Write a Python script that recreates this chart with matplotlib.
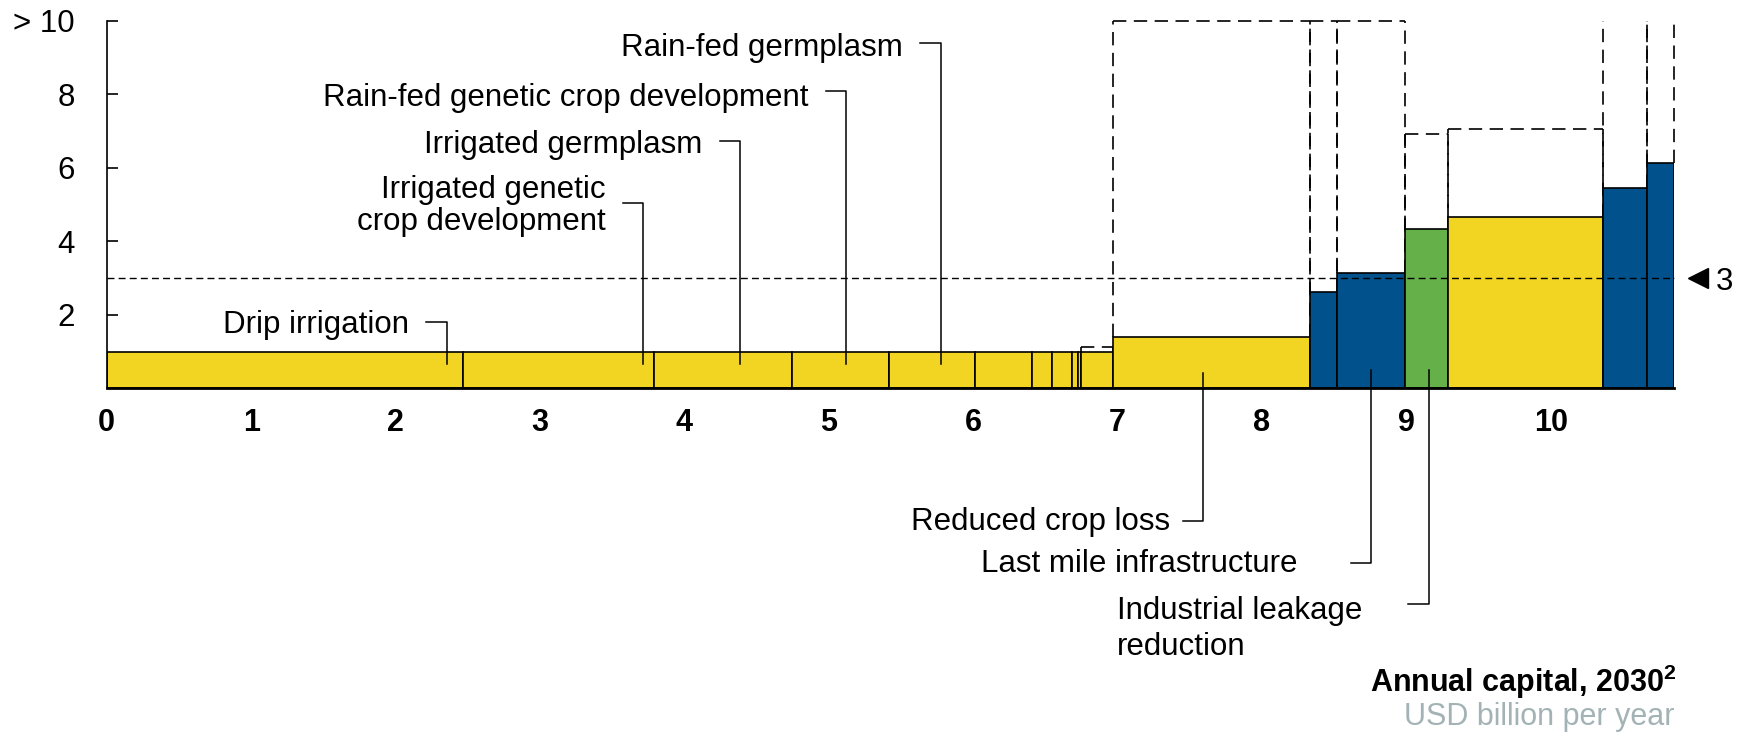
import numpy as np
import matplotlib.pyplot as plt

plt.rcParams['font.family'] = ['Liberation Sans', 'DejaVu Sans']
plt.rcParams['mathtext.fontset'] = 'custom'
plt.rcParams['mathtext.bf'] = 'Liberation Sans:bold'

# bar widths (USD billion, cumulative along x) and cost heights
widths = [2.464, 1.324, 0.954, 0.678, 0.594, 0.391, 0.144, 0.138, 0.040, 0.019, 0.222,
          1.366, 0.187, 0.469, 0.297, 1.073, 0.304, 0.191]
heights = [1, 1, 1, 1, 1, 1, 1, 1, 1, 1, 1,
           1.39, 2.62, 3.15, 4.34, 4.67, 5.46, 6.13]
# upper end of the cost range (dashed), None = no range, 11 = beyond "> 10"
upper = [None] * 10 + [1.12, 10, 10, 10, 6.92, 7.05, 11, 11]
kinds = ['y'] * 11 + ['y', 'b', 'b', 'g', 'y', 'b', 'b']
colors = {'y': '#F2D422', 'b': '#00518C', 'g': '#66B04A'}

threshold = 3

top_labels = ['Drip irrigation', 'Irrigated genetic\ncrop development', 'Irrigated germplasm',
              'Rain-fed genetic crop development', 'Rain-fed germplasm']
bottom_labels = ['Reduced crop loss', 'Last mile infrastructure', 'Industrial leakage\nreduction']

xtick_vals = list(range(11))
ytick_vals = [2, 4, 6, 8, 10]
ytick_labels = ['2', '4', '6', '8', '> 10']

lefts = np.concatenate([[0], np.cumsum(widths)[:-1]])
rights = lefts + np.array(widths)
xmax = rights[-1]

fig = plt.figure(figsize=(17.47, 7.33), dpi=100)
ax = fig.add_axes([0.0611, 0.4700, 0.8973, 0.5014])

# dashed range boxes behind the bars
dash_kw = dict(color='black', lw=1.2, linestyle=(0, (8, 4.5)), zorder=1, clip_on=False)
for l, r, h, u in zip(lefts, rights, heights, upper):
    if u is None:
        continue
    top = min(u, 10)
    ax.plot([l, l], [h, top], **dash_kw)
    ax.plot([r, r], [h, top], **dash_kw)
    if u <= 10:
        ax.plot([l, r], [top, top], **dash_kw)

ax.bar(lefts, heights, width=widths, align='edge',
       color=[colors[k] for k in kinds], edgecolor='black', linewidth=1.2, zorder=2)

# threshold line
ax.plot([0, xmax], [threshold, threshold], color='black', lw=1.0,
        linestyle=(0, (5, 3)), zorder=3, clip_on=False)
ax.plot(11.02, threshold, marker='<', ms=15, color='black', clip_on=False)
ax.text(11.14, threshold, str(threshold), fontsize=22.5, va='center_baseline', ha='left')

# labels above, with leader lines
lead_x = [2.354, 3.715, 4.385, 5.12, 5.775]
lead_y = [1.80, 5.04, 6.74, 8.10, 9.39]
text_y = [1.50, 4.31, 6.40, 7.69, 9.05]   # baseline of last text line
for lab, lx, ly, ty in zip(top_labels, lead_x, lead_y, text_y):
    ax.plot([lx - 0.14, lx, lx], [ly, ly, 0.66], color='black', lw=1.1, zorder=4, clip_on=False)
    ax.text(lx - 0.26, ty, lab, fontsize=22.5, ha='right', va='baseline', linespacing=1.11)

# labels below
blead_x = [7.592, 8.757, 9.154]
blead_y = [-3.61, -4.74, -5.87]
blead_top = [0.41, 0.5, 0.5]
btext_x = [7.366, 8.244, 6.995]
btext_y = [-3.85, -4.98, -7.25]
bha = ['right', 'right', 'left']
for lab, lx, ly, lt, tx, ty, ha in zip(bottom_labels, blead_x, blead_y, blead_top,
                                       btext_x, btext_y, bha):
    ax.plot([lx - 0.14, lx, lx], [ly, ly, lt], color='black', lw=1.1, zorder=4, clip_on=False)
    ax.text(tx, ty, lab, fontsize=22.5, ha=ha, va='baseline', linespacing=1.28)

ax.set_xlim(0, xmax)
ax.set_ylim(0, 10)
ax.set_xticks(xtick_vals)
ax.set_xticklabels([str(v) for v in xtick_vals], fontweight='bold', fontsize=22)
ax.set_yticks(ytick_vals)
ax.set_yticklabels(ytick_labels, fontsize=22.5)
ax.tick_params(axis='x', length=0, pad=14)
ax.tick_params(axis='y', direction='in', length=8, width=1.2, pad=23)
for s in ['top', 'right']:
    ax.spines[s].set_visible(False)
ax.spines['left'].set_linewidth(1.2)
ax.spines['bottom'].set_linewidth(2.0)

fig.text(1677 / 1747, 1 - 692 / 733, r'Annual capital, 2030$^{\mathbf{2}}$', fontsize=22,
         fontweight='bold', ha='right', va='baseline')
fig.text(1674 / 1747, 1 - 725 / 733, 'USD billion per year', fontsize=22, color='#A3B3B5',
         ha='right', va='baseline')

fig.savefig('out.png', dpi=100)
